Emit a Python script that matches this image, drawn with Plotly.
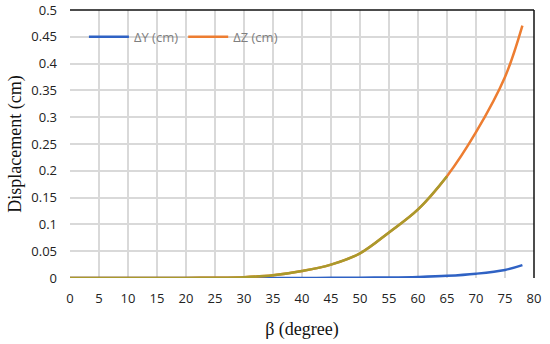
import plotly.graph_objects as go

beta = [0, 5, 10, 15, 20, 25, 30, 35, 40, 45, 50, 55, 60, 65, 70, 75, 78]
dY = [0, 0, 0, 0, 0, 0, 0, 0, 0, 0.0003, 0.0006, 0.001, 0.002, 0.004, 0.008, 0.015, 0.024]
dZ = [0, 0, 0, 0, 0.0002, 0.0005, 0.0015, 0.005, 0.013, 0.025, 0.046, 0.085, 0.128, 0.19, 0.272, 0.375, 0.471]
x_ticks = list(range(0, 81, 5))
y_ticks = [0, 0.05, 0.1, 0.15, 0.2, 0.25, 0.3, 0.35, 0.4, 0.45, 0.5]
y_tick_text = ["0", "0.05", "0.1", "0.15", "0.2", "0.25", "0.3", "0.35", "0.4", "0.45", "0.5"]

serif = "Liberation Serif, DejaVu Serif, serif"

fig = go.Figure()
fig.add_trace(go.Scatter(x=beta, y=dY, mode="lines", name="ΔY (cm)",
                         line=dict(color="#2f62c4", width=2.5, shape="spline")))
fig.add_trace(go.Scatter(x=beta, y=dZ, mode="lines", name="ΔZ (cm)",
                         line=dict(color="#ED7D31", width=2.5, shape="spline")))
# overlap tint on lower part of ΔZ curve (as in the reference)
n = beta.index(65) + 1
fig.add_trace(go.Scatter(x=beta[:n], y=dZ[:n], mode="lines", showlegend=False, hoverinfo="skip",
                         line=dict(color="#a99a2c", width=2.5, shape="spline")))

fig.update_layout(
    width=550, height=344,
    margin=dict(l=70, r=16, t=10, b=66, autoexpand=False),
    paper_bgcolor="white", plot_bgcolor="white",
    font=dict(family="Open Sans, Lato, sans-serif", size=13, color="#222"),
    legend=dict(orientation="h", x=0.03, y=0.9, xanchor="left", yanchor="middle",
                bgcolor="rgba(0,0,0,0)", font=dict(size=13, color="#7f7f7f"),
                itemwidth=40, tracegroupgap=0),
    showlegend=True,
)
fig.update_xaxes(range=[0, 80], tickvals=x_ticks, showgrid=True, gridcolor="#d9d9d9",
                 gridwidth=1.5, zeroline=False, showline=False, ticks="", automargin=False,
                 ticklabelstandoff=11,
                 tickfont=dict(size=13, color="#222"),
                 title=dict(text="β (degree)", font=dict(family=serif, size=18, color="#111"), standoff=16))
fig.update_yaxes(range=[0, 0.5], tickvals=y_ticks, ticktext=y_tick_text, showgrid=True,
                 gridcolor="#d9d9d9", gridwidth=1.5, zeroline=False, showline=False, ticks="",
                 automargin=False, ticklabelstandoff=12,
                 tickfont=dict(size=13, color="#222"),
                 title=dict(text="Displacement (cm)", font=dict(family=serif, size=18, color="#111"), standoff=4))
fig.add_shape(type="line", xref="paper", yref="paper", x0=0, x1=1, y0=1, y1=1,
              line=dict(color="#111", width=1.5))
fig.add_shape(type="line", xref="paper", yref="paper", x0=1, x1=1, y0=0, y1=1,
              line=dict(color="#111", width=1.5))

fig.write_html("out.html", config={"displayModeBar": False},
               post_script="document.body.style.margin='0';")
